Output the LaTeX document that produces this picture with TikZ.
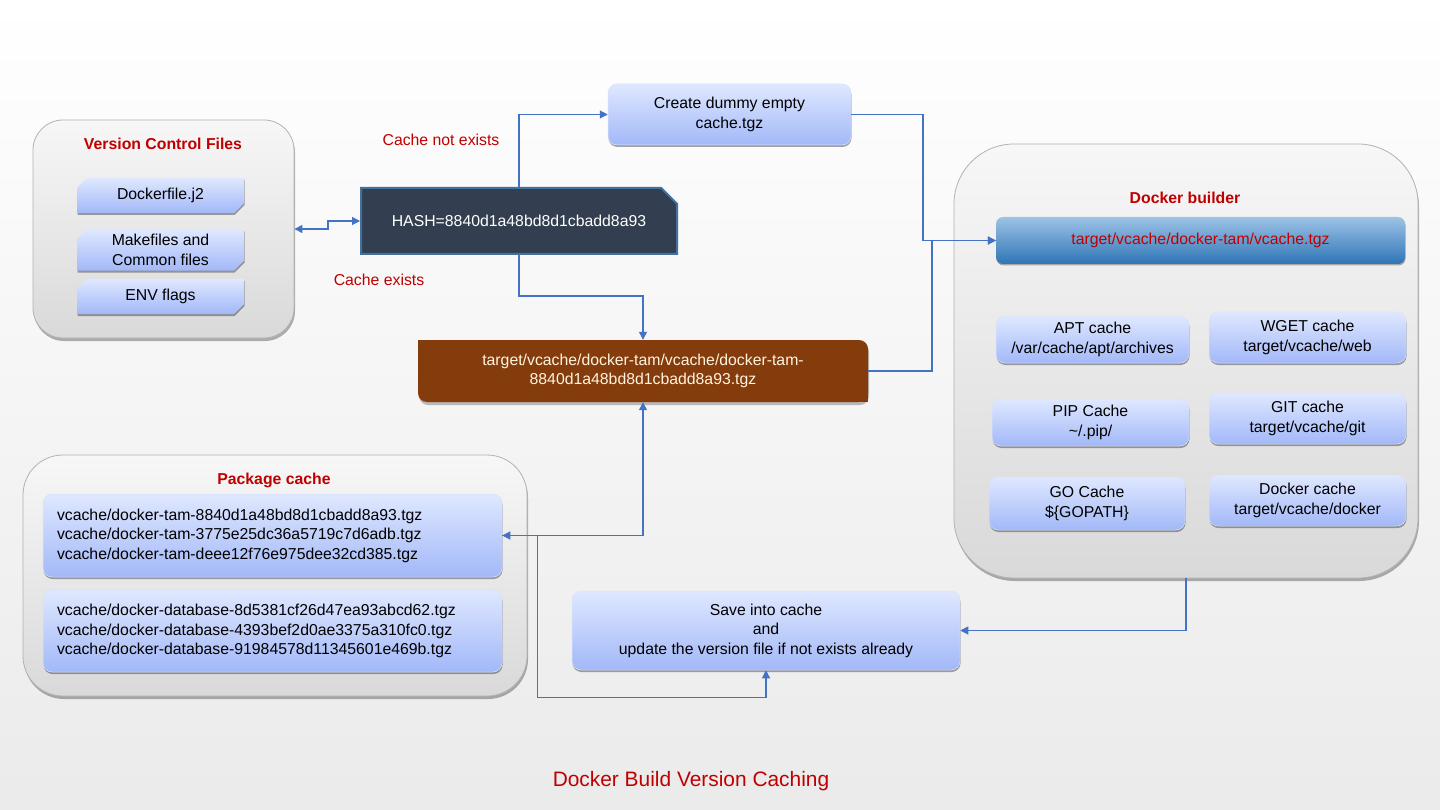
\documentclass[tikz,border=0pt]{standalone}
\usepackage{fontspec}
\setmainfont{Liberation Sans}
\usetikzlibrary{shapes.misc,shadows,arrows.meta,calc}
\definecolor{redt}{HTML}{C00000}
\definecolor{arrc}{HTML}{4472C4}
\definecolor{boxtop}{HTML}{DFE8FF}
\definecolor{boxbot}{HTML}{A2B8F8}
\definecolor{contop}{HTML}{F7F7F7}
\definecolor{conbot}{HTML}{D9D9D9}
\definecolor{hashfill}{HTML}{333F50}
\definecolor{hashline}{HTML}{41719C}
\definecolor{brownc}{HTML}{843C0C}
\definecolor{tgtop}{HTML}{9DC3E6}
\definecolor{tgbot}{HTML}{2E75B6}
\definecolor{creamt}{HTML}{FFF4E0}
\begin{document}
\begin{tikzpicture}[x=1pt,y=-1pt,
 every node/.style={font=\fontsize{15.8}{19.5}\selectfont, inner sep=0pt, align=center},
 container/.style={rounded corners=#1, top color=contop, bottom color=conbot, draw=gray!60, line width=0.8pt,
   drop shadow={shadow xshift=1pt, shadow yshift=-3pt, opacity=0.3, fill=black}},
 bluebox/.style={rounded corners=9pt, top color=boxtop, bottom color=boxbot, draw=white!60!boxbot, line width=0.5pt,
   drop shadow={shadow xshift=0.5pt, shadow yshift=-2pt, opacity=0.35, fill=black}},
 snipbox/.style={chamfered rectangle, chamfered rectangle corners={north west,south east},
   chamfered rectangle xsep=5pt, chamfered rectangle ysep=5pt,
   top color=boxtop, bottom color=boxbot, draw=none,
   drop shadow={shadow xshift=0.5pt, shadow yshift=-2pt, opacity=0.35, fill=black}},
 title/.style={font=\fontsize{15.8}{19.5}\selectfont\bfseries, text=redt},
 redlabel/.style={text=redt},
 conn/.style={draw=arrc, line width=1.1pt, -{Triangle[length=8pt,width=8pt]}},
 conn2/.style={draw=arrc, line width=1.1pt, {Triangle[length=8pt,width=8pt]}-{Triangle[length=8pt,width=8pt]}},
]
% background
\shade[top color=white, bottom color=black!8] (0,0) rectangle (1440,810);
\useasboundingbox (0,0) rectangle (1440,810);

% Version Control Files
\node[container=30pt, minimum width=261pt, minimum height=218pt] (vcf) at (163.5,229) {};
\node[title] (vcft) at (163,144) {Version Control Files};
\node[snipbox, minimum width=167pt, minimum height=35pt] (dockerfile) at (160.5,195.5) {Dockerfile.j2};
\node[snipbox, minimum width=167pt, minimum height=36pt] (makefiles) at (160.5,250) {Makefiles and\\Common files};
\node[snipbox, minimum width=167pt, minimum height=35pt] (env) at (160.5,296.5) {ENV flags};

% HASH
\node[chamfered rectangle, chamfered rectangle corners=north east, chamfered rectangle xsep=10pt, chamfered rectangle ysep=10pt,
  fill=hashfill, draw=hashline, line width=2pt, text=white, minimum width=316pt, minimum height=66pt] (hash) at (519,221) {HASH=8840d1a48bd8d1cbadd8a93};

\node[redlabel] (notexists) at (441,140) {Cache not exists};
\node[redlabel] (exists) at (379,280) {Cache exists};

% Create dummy
\node[bluebox, minimum width=243pt, minimum height=61pt] (dummy) at (729.5,114.5) {Create dummy empty\\cache.tgz};

% Brown
\fill[black, opacity=0.25, rounded corners=9pt] (419,343) rectangle (869,405);
\fill[brownc, rounded corners=9pt] (418,340) rectangle (868,402);
\fill[brownc] (418,340) rectangle (440,360);
\fill[brownc] (846,382) rectangle (868,402);
\node[text=creamt, minimum width=450pt, minimum height=62pt] (brown) at (643,371) {target/vcache/docker-tam/vcache/docker-tam-\\8840d1a48bd8d1cbadd8a93.tgz};

% Docker builder
\node[container=60pt, minimum width=464pt, minimum height=434pt] (builder) at (1186,361) {};
\node[title] (buildert) at (1185,198) {Docker builder};
\node[rounded corners=7pt, top color=tgtop, bottom color=tgbot, text=redt, minimum width=409pt, minimum height=47pt,
  drop shadow={shadow xshift=0.5pt, shadow yshift=-1.5pt, opacity=0.3, fill=black}] (target) at (1200.5,240.5) {target/vcache/docker-tam/vcache.tgz};
\node[bluebox, minimum width=193pt, minimum height=47pt] (apt) at (1092.5,339.5) {APT cache\\/var/cache/apt/archives};
\node[bluebox, minimum width=197pt, minimum height=51pt] (wget) at (1307.5,337.5) {WGET cache\\target/vcache/web};
\node[bluebox, minimum width=197pt, minimum height=47pt] (pip) at (1090.5,422.5) {PIP Cache\\\textasciitilde/.pip/};
\node[bluebox, minimum width=197pt, minimum height=51pt] (git) at (1307.5,418.5) {GIT cache\\target/vcache/git};
\node[bluebox, minimum width=196pt, minimum height=53pt] (go) at (1087,503.5) {GO Cache\\\$\{GOPATH\}};
\node[bluebox, minimum width=197pt, minimum height=51pt] (dcache) at (1307.5,500.5) {Docker cache\\target/vcache/docker};

% Package cache
\node[container=40pt, minimum width=504pt, minimum height=241pt] (pkg) at (275,575.5) {};
\node[title] (pkgt) at (274,480) {Package cache};
\node[bluebox, inner xsep=14pt, text width=431pt, align=left, minimum height=83pt] (box1) at (272.5,535.5)
 {vcache/docker-tam-8840d1a48bd8d1cbadd8a93.tgz\\vcache/docker-tam-3775e25dc36a5719c7d6adb.tgz\\vcache/docker-tam-deee12f76e975dee32cd385.tgz};
\node[bluebox, inner xsep=14pt, text width=431pt, align=left, minimum height=82pt] (box2) at (272.5,631)
 {vcache/docker-database-8d5381cf26d47ea93abcd62.tgz\\vcache/docker-database-4393bef2d0ae3375a310fc0.tgz\\vcache/docker-database-91984578d11345601e469b.tgz};

% Save
\node[bluebox, minimum width=388pt, minimum height=79pt] (save) at (766,630.5) {Save into cache\\and\\update the version file if not exists already};

% caption
\node[text=redt, font=\fontsize{20.9}{24}\selectfont] (caption) at (691,781) {Docker Build Version Caching};

% connectors
\coordinate (j1) at (923,0);
\coordinate (j2) at (932,0);
\draw[conn2] (hash.west) -- ++(-32,0) |- (vcf.east);
\draw[conn] (hash.north) |- (dummy.west);
\draw[conn] (dummy.east) -| (j1 |- target.west) -- (target.west);
\draw[conn] (brown.east) -| (j2 |- target.west) -- (target.west);
\draw[conn] (hash.south) -- ++(0,41) -| (brown.north);
\draw[conn2] (brown.south) |- (box1.east);
\draw[conn] (box1.east) -- ++(35,0) -- ++(0,162) -| (save.south);
\draw[conn] (builder.south) |- (save.east);
\end{tikzpicture}
\end{document}
